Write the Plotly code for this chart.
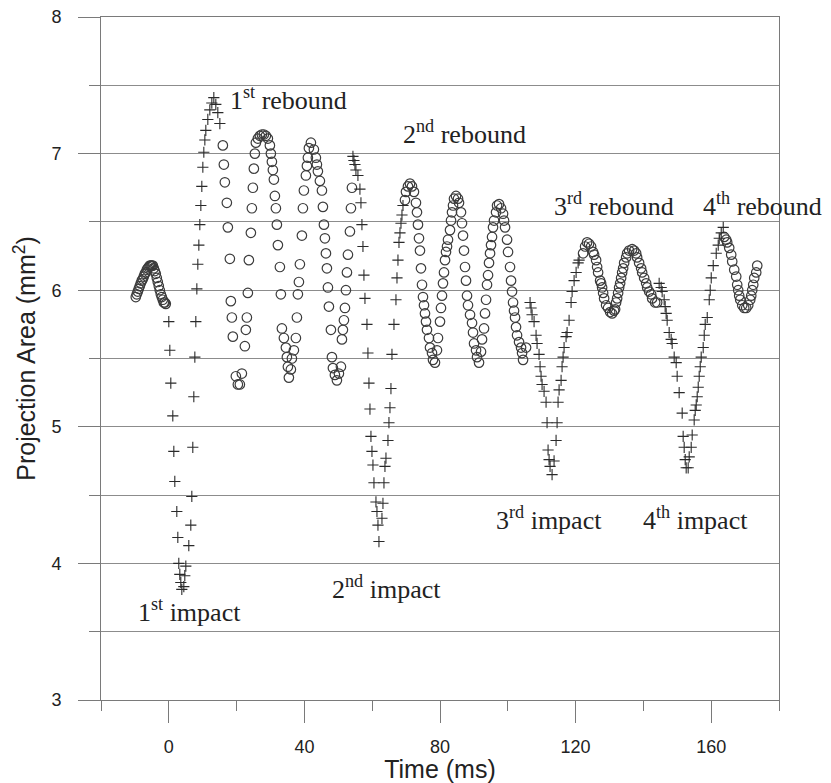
import plotly.graph_objects as go

# ---- measured projection area of the droplet (mm^2) versus time (ms) ----
# open circles: oscillating (airborne) phases
circ_pre_t = [-9.74, -9.45, -9.15, -8.86, -8.56, -8.27, -7.97, -7.68, -7.38, -7.08,
              -6.79, -6.49, -6.20, -5.90, -5.61, -5.31, -5.02, -4.72, -4.43, -4.13,
              -3.84, -3.54, -3.25, -2.95, -2.66, -2.36, -2.07, -1.77, -1.48, -1.18, -0.89]
circ_pre_a = [5.95, 5.97, 5.99, 6.01, 6.03, 6.05, 6.07, 6.08, 6.10, 6.12,
              6.13, 6.15, 6.16, 6.17, 6.18, 6.18, 6.18, 6.18, 6.16, 6.14,
              6.12, 6.09, 6.06, 6.03, 6.00, 5.97, 5.95, 5.93, 5.91, 5.91, 5.90]

circ_r1_t = [15.94, 16.24, 16.53, 17.12, 17.42, 18.01, 18.30, 18.60, 18.89, 19.78,
             20.37, 20.96, 21.55, 22.44, 22.73, 23.03, 23.32, 23.62, 24.21, 24.50,
             24.80, 25.09, 25.39, 25.68, 26.27, 26.86, 27.45, 28.04, 28.63, 29.22,
             29.82, 30.11, 30.41, 30.70, 31.00, 31.29, 31.59, 31.88, 32.18, 32.77,
             33.06, 33.36, 33.95, 34.54, 34.83, 35.13, 35.42, 36.01, 36.31, 36.90,
             37.49, 37.79, 38.08, 38.38, 38.67, 39.26, 39.56, 39.85, 40.44, 40.74,
             41.03, 41.33, 41.92, 42.80, 43.39, 43.69, 43.98, 44.57, 45.17, 45.46,
             45.76, 46.05, 46.35, 46.64, 46.94, 47.23, 47.82, 48.12, 48.41, 49.00,
             49.59, 50.18, 50.78, 51.07, 51.36, 51.66, 51.96, 52.25, 52.55, 52.84,
             53.43, 53.73, 54.02]
circ_r1_a = [7.06, 6.92, 6.79, 6.64, 6.46, 6.23, 5.92, 5.80, 5.66, 5.37,
             5.31, 5.31, 5.39, 5.59, 5.71, 5.80, 5.98, 6.22, 6.42, 6.60,
             6.75, 6.89, 7.00, 7.08, 7.11, 7.13, 7.14, 7.14, 7.13, 7.11,
             7.06, 7.00, 6.94, 6.88, 6.81, 6.69, 6.60, 6.48, 6.33, 6.17,
             5.97, 5.72, 5.65, 5.58, 5.51, 5.44, 5.36, 5.42, 5.50, 5.56,
             5.65, 5.80, 5.97, 6.06, 6.19, 6.40, 6.60, 6.73, 6.84, 6.91,
             6.97, 7.04, 7.08, 7.03, 6.97, 6.92, 6.87, 6.80, 6.73, 6.61,
             6.48, 6.38, 6.27, 6.16, 6.02, 5.88, 5.71, 5.51, 5.43, 5.38,
             5.34, 5.39, 5.44, 5.64, 5.71, 5.78, 5.87, 6.00, 6.13, 6.26,
             6.43, 6.60, 6.75]

circ_r2_t = [69.67, 69.96, 70.55, 71.14, 71.73, 72.32, 72.91, 73.21, 73.50, 73.80,
             74.09, 74.39, 74.69, 74.98, 75.28, 75.57, 75.87, 76.16, 76.75, 77.05,
             77.64, 77.93, 78.52, 79.11, 79.41, 80.00, 80.29, 80.59, 80.88, 81.18,
             81.48, 81.77, 82.07, 82.36, 82.95, 83.25, 83.54, 83.84, 84.13, 84.72,
             85.32, 85.61, 86.20, 86.49, 86.79, 87.08, 87.38, 87.67, 87.97, 88.26,
             88.86, 89.45, 89.74, 90.04, 90.63, 90.92, 91.51, 92.10, 92.40, 92.99,
             93.28, 93.58, 93.87, 94.17, 94.46, 94.76, 95.05, 95.35, 95.64, 95.94,
             96.53, 96.83, 97.42, 98.01, 98.60, 98.89, 99.19, 99.78, 100.07, 100.66,
             100.96, 101.25, 101.55, 101.84, 102.14, 102.43, 102.73, 103.32, 103.91, 104.21,
             104.50, 105.39]
circ_r2_a = [6.66, 6.72, 6.76, 6.78, 6.76, 6.72, 6.64, 6.57, 6.48, 6.38,
             6.29, 6.16, 6.04, 5.95, 5.89, 5.83, 5.77, 5.71, 5.65, 5.58,
             5.54, 5.49, 5.47, 5.56, 5.65, 5.77, 5.87, 5.96, 6.05, 6.13,
             6.22, 6.28, 6.32, 6.37, 6.44, 6.51, 6.57, 6.62, 6.67, 6.69,
             6.67, 6.64, 6.57, 6.49, 6.40, 6.29, 6.17, 6.07, 5.96, 5.89,
             5.82, 5.76, 5.69, 5.61, 5.56, 5.51, 5.47, 5.55, 5.64, 5.72,
             5.83, 5.93, 6.04, 6.11, 6.20, 6.27, 6.33, 6.39, 6.46, 6.51,
             6.57, 6.62, 6.63, 6.60, 6.56, 6.51, 6.46, 6.37, 6.28, 6.17,
             6.07, 5.99, 5.91, 5.85, 5.80, 5.73, 5.67, 5.62, 5.58, 5.54,
             5.49, 5.58]

circ_r3_t = [122.21, 122.80, 123.39, 123.98, 124.57, 125.16, 125.46, 126.05, 126.35, 126.64,
             127.23, 127.53, 127.82, 128.12, 128.41, 129.00, 129.59, 130.18, 130.77, 131.36,
             131.66, 131.95, 132.25, 132.54, 132.84, 133.14, 133.43, 133.73, 134.02, 134.32,
             134.91, 135.20, 135.79, 136.68, 137.27, 137.86, 138.15, 138.74, 139.33, 139.63,
             140.22, 140.81, 141.11, 141.70, 142.29, 142.58, 143.47, 144.06]
circ_r3_a = [6.27, 6.32, 6.35, 6.34, 6.32, 6.28, 6.26, 6.22, 6.17, 6.13,
             6.07, 6.05, 6.02, 5.98, 5.94, 5.89, 5.87, 5.84, 5.83, 5.85,
             5.86, 5.91, 5.94, 5.98, 6.02, 6.05, 6.09, 6.13, 6.16, 6.20,
             6.24, 6.27, 6.29, 6.30, 6.29, 6.27, 6.24, 6.20, 6.16, 6.13,
             6.09, 6.05, 6.02, 5.99, 5.97, 5.94, 5.91, 5.91]

circ_r4_t = [163.84, 164.43, 164.72, 165.31, 165.90, 166.20, 166.79, 167.38, 167.67, 167.97,
             168.26, 168.56, 169.15, 169.74, 170.33, 170.92, 171.51, 171.81, 172.10, 172.40,
             172.69, 173.28, 173.58]
circ_r4_a = [6.39, 6.37, 6.35, 6.31, 6.26, 6.21, 6.15, 6.10, 6.04, 6.00,
             5.96, 5.93, 5.89, 5.87, 5.87, 5.89, 5.93, 5.96, 6.00, 6.04,
             6.09, 6.13, 6.18]

# crosses: impact / contact phases
plus_i1_t = [0.00, 0.30, 0.59, 1.18, 1.48, 1.77, 2.36, 2.66, 2.95, 3.25,
             3.54, 3.84, 4.43, 4.72, 5.02, 5.90, 6.49, 6.79, 7.08, 7.38,
             7.68, 7.97, 8.27, 8.56, 8.86, 9.15, 9.45, 9.74, 10.04, 10.33,
             10.63, 10.92, 11.51, 12.10, 12.69, 13.28, 13.87, 14.46, 15.06]
plus_i1_a = [5.77, 5.56, 5.32, 5.08, 4.82, 4.60, 4.38, 4.19, 4.00, 3.92,
             3.86, 3.81, 3.83, 3.91, 3.98, 4.13, 4.28, 4.49, 4.85, 5.22,
             5.51, 5.77, 6.01, 6.19, 6.33, 6.48, 6.62, 6.76, 6.90, 7.01,
             7.10, 7.17, 7.25, 7.32, 7.37, 7.41, 7.36, 7.30, 7.22]

plus_i2_t = [54.32, 54.61, 54.91, 55.20, 55.79, 56.38, 56.68, 56.97, 57.27, 57.56,
             57.86, 58.45, 58.74, 59.04, 59.34, 59.63, 59.93, 60.22, 60.52, 61.11,
             61.40, 61.70, 61.99, 62.88, 63.17, 63.47, 63.76, 64.06, 64.65, 64.94,
             65.24, 65.53, 65.83, 66.42, 67.01, 67.31, 67.60, 67.90, 68.19, 68.49,
             68.78, 69.08]
plus_i2_a = [6.98, 6.95, 6.92, 6.88, 6.84, 6.74, 6.64, 6.48, 6.32, 6.11,
             5.94, 5.75, 5.54, 5.32, 5.13, 4.93, 4.82, 4.72, 4.59, 4.45,
             4.38, 4.28, 4.16, 4.33, 4.44, 4.59, 4.71, 4.77, 4.90, 5.03,
             5.14, 5.28, 5.53, 5.75, 5.93, 6.09, 6.22, 6.35, 6.42, 6.49,
             6.55, 6.62]

plus_i3_t = [106.57, 106.86, 107.16, 107.75, 108.34, 108.63, 109.22, 109.52, 109.81, 110.11,
             110.70, 111.29, 111.58, 111.88, 112.18, 112.47, 113.06, 113.65, 114.24, 114.54,
             114.83, 115.13, 115.72, 116.01, 116.31, 116.60, 117.19, 117.49, 118.08, 118.67,
             118.97, 119.56, 120.15, 120.74, 121.03]
plus_i3_a = [5.91, 5.87, 5.82, 5.77, 5.67, 5.61, 5.53, 5.44, 5.37, 5.31,
             5.26, 5.18, 5.03, 4.83, 4.76, 4.71, 4.65, 4.75, 4.90, 5.03,
             5.18, 5.27, 5.34, 5.44, 5.51, 5.58, 5.66, 5.69, 5.78, 5.91,
             5.99, 6.07, 6.13, 6.20, 6.22]

plus_i4_t = [144.65, 145.24, 145.53, 146.12, 146.42, 146.71, 147.01, 147.60, 148.19, 148.49,
             149.08, 149.67, 149.96, 150.55, 151.44, 151.73, 152.03, 152.33, 152.62, 153.21,
             153.51, 154.10, 154.39, 154.98, 155.28, 155.58, 155.87, 156.17, 156.46, 156.76,
             157.05, 157.64, 157.94, 158.23, 158.83, 159.42, 159.71, 160.01, 160.60, 161.48,
             162.07, 162.37, 162.96, 163.55]
plus_i4_a = [6.05, 6.02, 5.99, 5.93, 5.88, 5.83, 5.78, 5.69, 5.64, 5.61,
             5.51, 5.47, 5.37, 5.25, 5.10, 4.93, 4.85, 4.76, 4.70, 4.70,
             4.78, 4.85, 4.94, 5.05, 5.12, 5.16, 5.22, 5.29, 5.37, 5.44,
             5.51, 5.58, 5.67, 5.75, 5.80, 5.93, 6.00, 6.09, 6.18, 6.27,
             6.33, 6.38, 6.42, 6.46]

# event labels: (text, left x in ms, baseline area)
labels = [
    ("1<sup>st</sup> rebound", 17.5, 7.33),
    ("2<sup>nd</sup> rebound", 68.5, 7.08),
    ("3<sup>rd</sup> rebound", 113.0, 6.55),
    ("4<sup>th</sup> rebound", 157.0, 6.55),
    ("1<sup>st</sup> impact", -9.8, 3.58),
    ("2<sup>nd</sup> impact", 47.6, 3.75),
    ("3<sup>rd</sup> impact", 96.0, 4.25),
    ("4<sup>th</sup> impact", 139.4, 4.25),
]

x_ticks = [0, 40, 80, 120, 160]

circle_t = circ_pre_t + circ_r1_t + circ_r2_t + circ_r3_t + circ_r4_t
circle_a = circ_pre_a + circ_r1_a + circ_r2_a + circ_r3_a + circ_r4_a
plus_t = plus_i1_t + plus_i2_t + plus_i3_t + plus_i4_t
plus_a = plus_i1_a + plus_i2_a + plus_i3_a + plus_i4_a

AX = "#7a7a7a"
SANS = "Liberation Sans, Arial, sans-serif"
SERIF = "Liberation Serif, Times New Roman, serif"

fig = go.Figure()
fig.add_trace(go.Scatter(
    x=circle_t, y=circle_a, mode="markers", hoverinfo="skip",
    marker=dict(symbol="circle-open", size=9.5, color="#3c3c3c",
                line=dict(width=1.2, color="#3c3c3c")),
))
fig.add_trace(go.Scatter(
    x=plus_t, y=plus_a, mode="markers", hoverinfo="skip",
    marker=dict(symbol="cross-thin-open", size=8, color="#2a2a2a",
                line=dict(width=1.1, color="#2a2a2a")),
))

for text, x0, y0 in labels:
    fig.add_annotation(x=x0, y=y0, text=text, showarrow=False,
                       xanchor="left", yanchor="bottom", yshift=-8,
                       font=dict(family=SERIF, size=26, color="#222"))

fig.update_layout(
    width=831, height=783,
    margin=dict(l=101, r=52, t=17, b=83),
    plot_bgcolor="white", paper_bgcolor="white",
    showlegend=False,
)
fig.update_xaxes(
    range=[-20, 180], tickvals=x_ticks, ticks="outside", ticklen=22,
    tickwidth=1, tickcolor=AX, showline=True, linecolor=AX, linewidth=1,
    mirror=True, showgrid=False, zeroline=False, automargin=False,
    minor=dict(dtick=20, tick0=0, ticks="outside", ticklen=10, tickcolor=AX),
    tickfont=dict(family=SANS, size=18, color="#222"), ticklabelstandoff=8,
    title=dict(text="Time (ms)", font=dict(family=SANS, size=25, color="#222"),
               standoff=6),
)
fig.update_yaxes(
    range=[3, 8], dtick=1, tick0=0, ticks="outside", ticklen=22, tickwidth=1,
    tickcolor=AX, showline=True, linecolor=AX, linewidth=1, mirror=True,
    showgrid=True, gridcolor="#8c8c8c", gridwidth=1, zeroline=False,
    automargin=False,
    minor=dict(dtick=0.5, ticks="outside", ticklen=11, tickcolor=AX,
               showgrid=True, gridcolor="#8c8c8c", gridwidth=1),
    tickfont=dict(family=SANS, size=18, color="#222"), ticklabelstandoff=13,
    title=dict(text="Projection Area (mm<sup>2</sup>)",
               font=dict(family=SANS, size=25, color="#222"), standoff=8),
)

fig.write_html("out.html")
